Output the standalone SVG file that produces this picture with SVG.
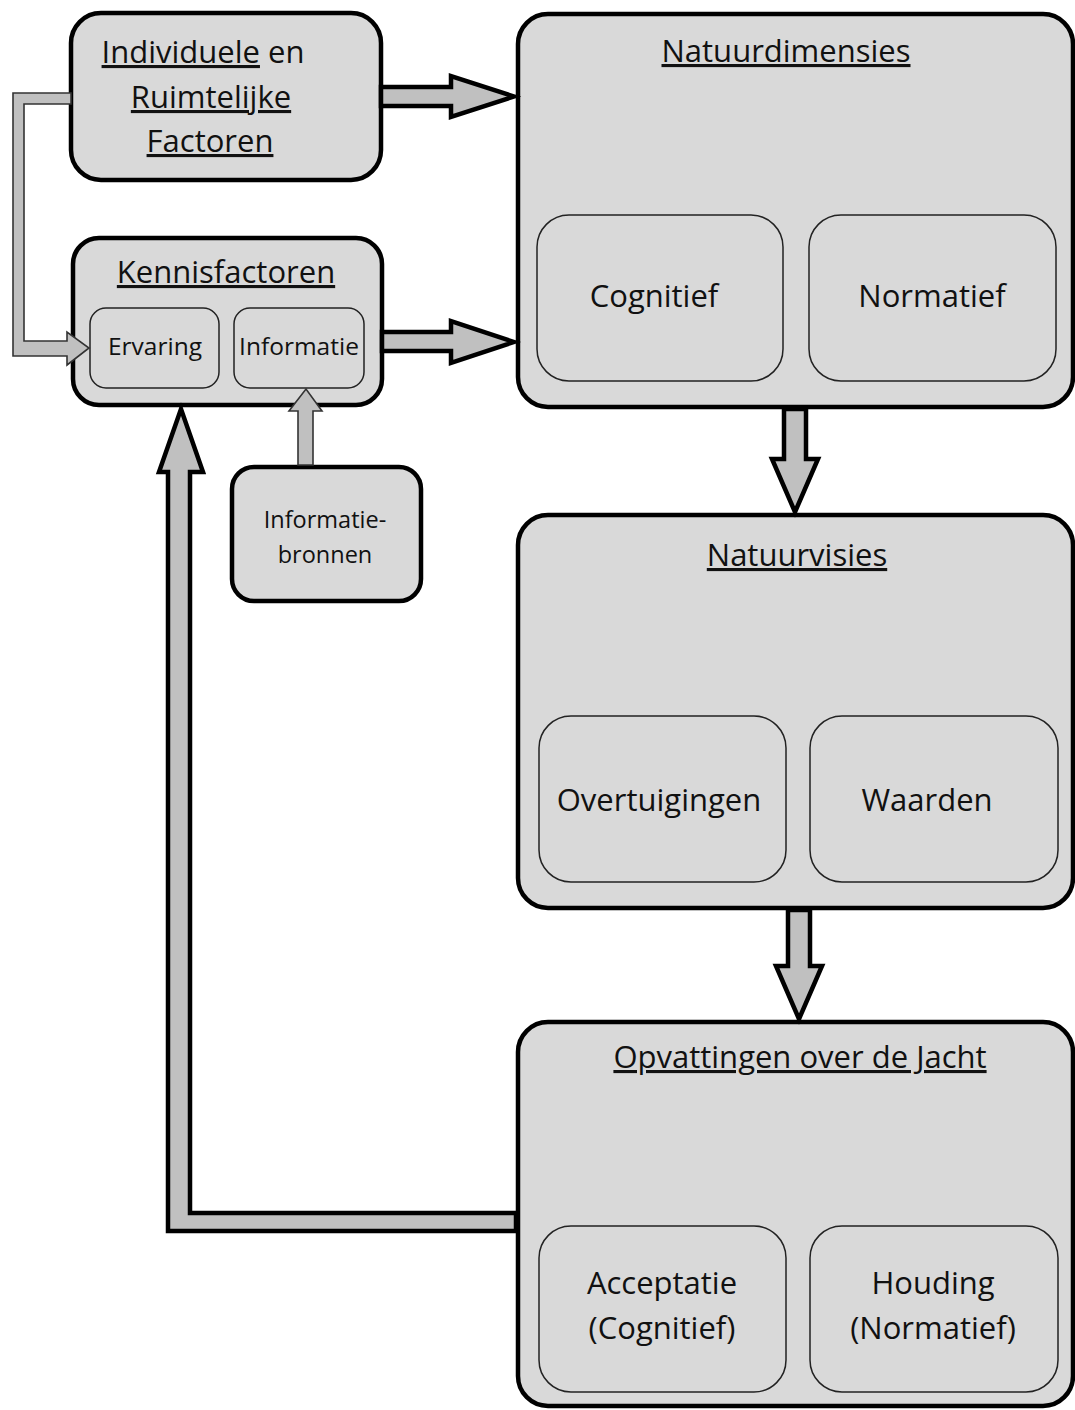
<svg xmlns="http://www.w3.org/2000/svg" width="1075" height="1410" viewBox="0 0 1075 1410">
<style>
.node{fill:#d9d9d9;stroke:#000;stroke-width:4.5}
.inner{fill:#d9d9d9;stroke:#222;stroke-width:1.5}
.t{font-family:"Open Sans","Noto Sans",sans-serif;fill:#111;text-anchor:middle}
.title{font-size:31px;text-decoration:underline}
.big{font-size:31px}
.small{font-size:24.5px}
.thick{fill:#c0c0c0;stroke:#000;stroke-width:4.5;stroke-linejoin:miter}
.thin{fill:#c0c0c0;stroke:#333;stroke-width:1.6;stroke-linejoin:miter}
</style>
<rect width="1075" height="1410" fill="#fff"/>
<g id="n-individuele">
<rect class="node" x="71" y="13" width="310" height="167" rx="30"/>
<text class="t big" x="203" y="63"><tspan text-decoration="underline">Individuele</tspan> en</text>
<text class="t title" x="211" y="108">Ruimtelijke</text>
<text class="t title" x="210" y="152">Factoren</text>
</g>
<g id="n-kennis">
<rect class="node" x="73" y="238" width="309" height="167" rx="26"/>
<text class="t title" x="226" y="283">Kennisfactoren</text>
<rect class="inner" x="90" y="308" width="129" height="80" rx="16"/>
<text class="t small" x="155" y="355">Ervaring</text>
<rect class="inner" x="234" y="308" width="130" height="80" rx="16"/>
<text class="t small" x="299" y="355">Informatie</text>
</g>
<g id="n-bronnen">
<rect class="node" x="232" y="467" width="189" height="134" rx="22"/>
<text class="t" style="font-size:23.5px" x="325" y="528">Informatie-</text>
<text class="t" style="font-size:23.5px" x="325" y="563">bronnen</text>
</g>
<g id="n-natuurdimensies">
<rect class="node" x="518" y="14" width="555" height="393" rx="30"/>
<text class="t title" x="786" y="62">Natuurdimensies</text>
<rect class="inner" x="537" y="215" width="246" height="166" rx="32"/>
<text class="t big" x="654" y="307">Cognitief</text>
<rect class="inner" x="809" y="215" width="247" height="166" rx="32"/>
<text class="t big" x="932" y="307">Normatief</text>
</g>
<g id="n-natuurvisies">
<rect class="node" x="518" y="515" width="555" height="393" rx="30"/>
<text class="t title" x="797" y="566">Natuurvisies</text>
<rect class="inner" x="539" y="716" width="247" height="166" rx="32"/>
<text class="t big" x="659" y="811">Overtuigingen</text>
<rect class="inner" x="810" y="716" width="248" height="166" rx="32"/>
<text class="t big" x="927" y="811">Waarden</text>
</g>
<g id="n-opvattingen">
<rect class="node" x="518" y="1022" width="555" height="384" rx="30"/>
<text class="t title" x="800" y="1068">Opvattingen over de Jacht</text>
<rect class="inner" x="539" y="1226" width="247" height="166" rx="32"/>
<text class="t big" x="662" y="1294">Acceptatie</text>
<text class="t big" x="662" y="1339">(Cognitief)</text>
<rect class="inner" x="810" y="1226" width="248" height="166" rx="32"/>
<text class="t big" x="933" y="1294">Houding</text>
<text class="t big" x="933" y="1339">(Normatief)</text>
</g>
<g id="connectors">
<polygon class="thick" points="381,87 451,87 451,76 514,96.5 451,117 451,106 381,106"/>
<polygon class="thick" points="382,332 451,332 451,321 514,342 451,363 451,351 382,351"/>
<polygon class="thick" points="784,409 784,459 772,459 795,512 818,459 806,459 806,409"/>
<polygon class="thick" points="788,910 788,966 776,966 799,1019 822,966 810,966 810,910"/>
<polygon class="thick" points="516,1213 190,1213 190,472 203,472 181,409 159,472 168,472 168,1231 516,1231"/>
<polygon class="thin" points="71,93 13,93 13,356 67,356 67,365 89,348 67,332 67,341 24,341 24,104 71,104"/>
<polygon class="thin" points="298,465 298,411 289,411 306,389 322,411 313,411 313,465"/>
</g>
</svg>
